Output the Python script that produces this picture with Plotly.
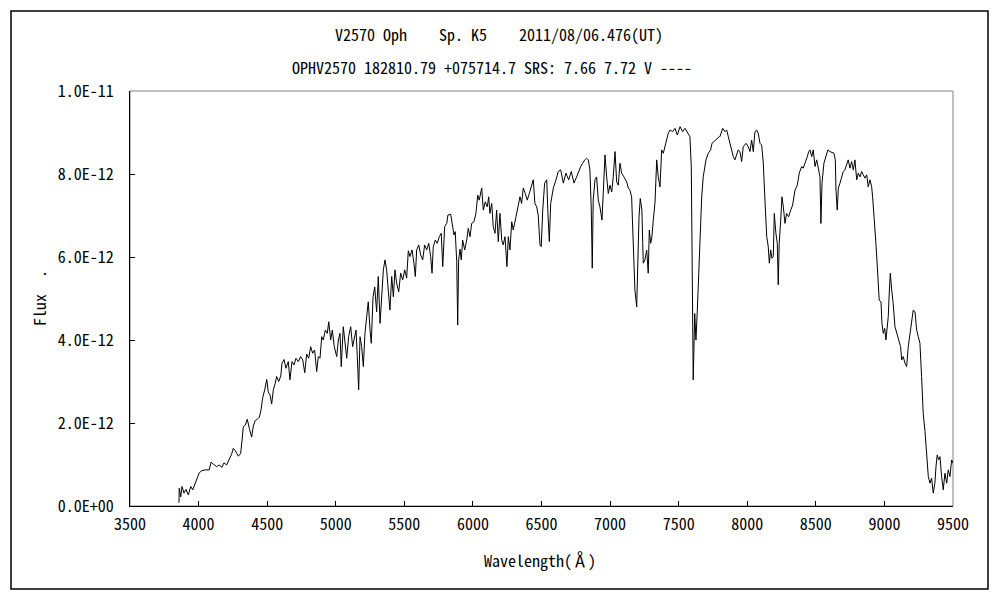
import plotly.graph_objects as go

# Wavelength (Angstrom) and flux (units of 1e-12)
wavelength = [
    3857, 3859, 3870, 3879, 3894, 3908, 3925, 3943, 3957, 3974, 3991, 4005, 4023, 4047, 4078, 4091,
    4107, 4132, 4151, 4169, 4185, 4205, 4224, 4241, 4253, 4268, 4290, 4307, 4317, 4326, 4341, 4355,
    4370, 4387, 4399, 4413, 4428, 4443, 4455, 4467, 4482, 4497, 4508, 4521, 4533, 4545, 4559, 4569,
    4584, 4599, 4608, 4623, 4637, 4654, 4666, 4681, 4696, 4710, 4727, 4744, 4759, 4774, 4788, 4803,
    4817, 4832, 4846, 4861, 4873,
    4885, 4898, 4909, 4924, 4938, 4949, 4963, 4975, 4989, 5007, 5019, 5031, 5040, 5055, 5067, 5080,
    5094, 5109, 5123, 5135, 5148, 5157, 5167, 5177, 5189, 5201, 5213, 5226, 5237, 5250, 5259, 5272,
    5284, 5298, 5310, 5323, 5335, 5347, 5359, 5371, 5383, 5395, 5408, 5420, 5432, 5444, 5459, 5473,
    5488, 5503, 5517, 5529, 5541, 5556, 5570, 5580, 5590, 5605, 5619, 5634, 5648, 5663, 5678, 5692,
    5702, 5711, 5726, 5740, 5755, 5769, 5780, 5789,
    5794, 5809, 5818, 5838, 5852, 5862, 5871, 5882, 5889, 5896, 5906, 5915, 5925, 5940, 5955, 5966,
    5979, 5991, 6008, 6022, 6035, 6046, 6064, 6076, 6090, 6105, 6115, 6124, 6137, 6148, 6161, 6173,
    6185, 6197, 6210, 6221, 6234, 6248, 6258, 6270, 6283, 6294, 6314, 6329, 6343, 6355, 6367, 6382,
    6396, 6411, 6425, 6440, 6452, 6465, 6476, 6489, 6498, 6509, 6523, 6538, 6547, 6557, 6567, 6586,
    6606, 6622, 6640, 6659, 6678, 6698, 6717, 6737, 6756, 6775,
    6786, 6800, 6815, 6829, 6841, 6853, 6863, 6870, 6877, 6890, 6902, 6914, 6926, 6941, 6950, 6963,
    6975, 6987, 6999, 7012, 7023, 7036, 7048, 7060, 7072, 7084, 7101, 7121, 7133, 7145, 7157, 7165,
    7172, 7181, 7194, 7203, 7211, 7220, 7232, 7238, 7242, 7254, 7267, 7278, 7286, 7296, 7305, 7315,
    7327, 7340, 7351, 7364, 7376, 7388, 7400, 7413, 7424, 7437, 7456, 7473, 7490, 7510, 7529, 7546,
    7563, 7582, 7592, 7599, 7606, 7617, 7626, 7636, 7646, 7655, 7668, 7679, 7699, 7716, 7733, 7743,
    7757, 7777, 7796,
    7801, 7821, 7838, 7850, 7862, 7874, 7886, 7898, 7910, 7923, 7934, 7947, 7959, 7971, 7991, 8007,
    8020, 8032, 8044, 8056, 8069, 8080, 8093, 8105, 8117, 8129, 8142, 8153, 8161, 8171, 8180, 8190,
    8197, 8209, 8219, 8226, 8233, 8244, 8253, 8263, 8275, 8287, 8302, 8317, 8331, 8348, 8365, 8379,
    8397, 8408, 8423, 8438, 8448, 8457, 8470, 8481, 8494, 8506, 8518, 8530, 8537, 8545, 8559, 8574,
    8588, 8603, 8618, 8632, 8642,
    8647, 8656, 8664, 8676, 8688, 8700, 8712, 8725, 8736, 8749, 8761, 8773, 8785, 8798, 8809, 8822,
    8834, 8846, 8858, 8871, 8882, 8895, 8907, 8914, 8926, 8938, 8951, 8962, 8975, 8982, 8992, 9002,
    9011, 9021, 9028, 9035, 9043, 9053, 9064, 9077, 9089, 9099, 9108, 9118, 9126, 9137, 9150, 9162,
    9174, 9186, 9199, 9210, 9223, 9235, 9247, 9259, 9271, 9283, 9296, 9308, 9320, 9332, 9344, 9356,
    9368, 9376, 9385, 9395, 9405, 9417, 9429, 9441, 9454, 9465, 9478, 9490, 9500,
]

flux_e12 = [
    0.08, 0.43, 0.22, 0.47, 0.31, 0.40, 0.27, 0.47, 0.39, 0.55, 0.67, 0.80, 0.85, 0.87, 0.87, 1.06,
    1.01, 0.95, 0.99, 0.93, 1.04, 0.99, 1.13, 1.25, 1.39, 1.33, 1.20, 1.27, 1.59, 1.91, 1.95, 2.09,
    1.87, 1.66, 1.93, 2.06, 2.09, 2.14, 2.31, 2.60, 2.80, 3.05, 2.75, 2.67, 2.46, 2.80, 2.96, 3.12,
    3.00, 3.13, 3.44, 3.53, 3.32, 3.48, 3.04, 3.48, 3.40, 3.56, 3.48, 3.60, 3.52, 3.21, 3.66, 3.56,
    3.84, 3.68, 3.76, 3.24, 3.60,
    3.56, 4.08, 4.00, 4.24, 4.16, 4.44, 4.00, 4.24, 3.84, 3.60, 4.00, 4.16, 3.36, 4.32, 3.92, 3.56,
    4.08, 4.32, 3.84, 4.00, 4.24, 3.60, 2.80, 4.08, 3.84, 3.36, 4.16, 4.58, 4.92, 4.24, 3.92, 5.04,
    5.28, 4.68, 5.53, 4.40, 5.20, 5.69, 5.93, 5.69, 5.20, 4.72, 5.53, 5.04, 5.69, 5.37, 5.16, 5.61,
    5.45, 5.69, 5.49, 6.15, 6.01, 6.17, 5.85, 5.53, 6.17, 6.29, 6.05, 5.93, 6.29, 6.17, 6.33, 6.01,
    5.61, 6.25, 6.41, 6.33, 6.49, 6.57, 5.77, 6.65,
    6.73, 6.81, 7.01, 7.03, 6.77, 6.53, 6.61, 5.89, 4.36, 5.93, 6.19, 5.93, 6.41, 6.17, 6.41, 6.69,
    6.49, 6.81, 6.85, 7.05, 7.49, 7.37, 7.66, 7.13, 7.33, 7.21, 7.45, 7.05, 7.29, 6.73, 6.57, 7.13,
    6.37, 7.05, 6.41, 6.29, 6.49, 5.77, 6.49, 6.17, 6.85, 6.65, 6.97, 7.21, 7.45, 7.29, 7.66, 7.53,
    7.37, 7.53, 7.69, 7.86, 7.29, 7.21, 7.01, 6.29, 6.25, 7.13, 7.78, 7.86, 7.05, 6.37, 7.29, 7.66,
    7.86, 8.06, 8.10, 7.78, 8.02, 7.86, 8.06, 7.78, 7.93, 8.10,
    8.18, 8.26, 8.34, 8.38, 8.34, 8.10, 7.13, 5.73, 7.37, 7.86, 7.93, 7.37, 7.21, 6.89, 7.61, 8.46,
    7.93, 7.53, 7.73, 7.57, 7.93, 8.54, 7.81, 7.73, 8.26, 8.02, 7.93, 7.81, 7.66, 7.61, 7.45, 6.81,
    5.85, 5.20, 4.80, 6.33, 6.97, 7.41, 7.13, 6.33, 5.85, 5.93, 6.17, 5.61, 6.65, 6.33, 6.49, 6.89,
    7.29, 8.34, 7.93, 7.69, 8.58, 8.50, 8.66, 8.78, 8.98, 9.06, 9.02, 9.10, 8.94, 9.14, 9.02, 9.10,
    9.00, 8.90, 8.18, 4.88, 3.04, 4.64, 4.00, 4.72, 5.53, 6.57, 7.45, 7.93, 8.34, 8.50, 8.58, 8.74,
    8.78, 8.86, 8.90,
    8.90, 9.10, 9.02, 9.06, 8.90, 8.74, 8.62, 8.42, 8.34, 8.50, 8.58, 8.54, 8.30, 8.66, 8.74, 8.66,
    8.54, 8.82, 8.54, 9.02, 9.06, 8.98, 8.74, 8.70, 8.26, 7.37, 6.49, 6.25, 5.85, 6.17, 5.97, 6.01,
    7.05, 6.57, 6.33, 5.33, 6.33, 6.89, 7.45, 7.21, 6.81, 7.05, 6.97, 7.13, 7.25, 7.61, 7.73, 8.02,
    8.18, 8.14, 8.26, 8.42, 8.54, 8.58, 8.42, 8.58, 8.18, 8.34, 8.14, 7.93, 6.81, 7.78, 8.26, 8.42,
    8.58, 8.54, 8.51, 8.50, 8.34,
    7.61, 7.13, 7.66, 7.78, 7.90, 8.06, 8.10, 8.26, 8.34, 8.14, 8.30, 8.10, 8.34, 7.86, 8.02, 7.93,
    8.06, 7.98, 7.90, 7.98, 7.69, 7.86, 7.69, 7.45, 6.97, 6.33, 5.61, 4.96, 4.92, 4.40, 4.16, 4.28,
    4.00, 4.40, 4.56, 5.13, 5.61, 5.20, 4.88, 4.32, 4.16, 4.08, 3.92, 3.84, 3.52, 3.60, 3.44, 3.36,
    3.84, 4.16, 4.48, 4.72, 4.68, 4.24, 4.08, 3.92, 3.12, 2.23, 1.79, 1.11, 0.71, 0.55, 0.67, 0.31,
    0.55, 0.95, 1.23, 1.11, 1.19, 0.71, 0.39, 0.79, 0.55, 0.87, 0.71, 1.11, 1.03,
]

x_ticks = [3500, 4000, 4500, 5000, 5500, 6000, 6500, 7000, 7500, 8000, 8500, 9000, 9500]
y_tick_vals = [0, 2e-12, 4e-12, 6e-12, 8e-12, 1e-11]
y_tick_text = ["0.0E+00", "2.0E-12", "4.0E-12", "6.0E-12", "8.0E-12", "1.0E-11"]

title_line1 = "V2570 Oph\u00a0\u00a0\u00a0\u00a0Sp. K5\u00a0\u00a0\u00a0\u00a02011/08/06.476(UT)"
title_line2 = "OPHV2570 182810.79 +075714.7 SRS: 7.66 7.72 V ----"

flux = [v * 1e-12 for v in flux_e12]

FONT = "Noto Sans Mono CJK JP, Noto Sans CJK JP, DejaVu Sans Mono, monospace"
FS = 16

# pixel layout helpers (plot area: x 130..953, y 91..506)
L, R, T, B = 130, 953, 91, 506
W, H = R - L, B - T


def px(xp):
    return (xp - L) / W


def py(yp):
    return (B - yp) / H


fig = go.Figure()
fig.add_trace(go.Scatter(
    x=wavelength, y=flux, mode="lines",
    line=dict(color="black", width=1),
    hoverinfo="skip", showlegend=False,
))

fig.update_layout(
    width=1000, height=600,
    margin=dict(l=L, r=1000 - R, t=T, b=600 - B),
    paper_bgcolor="white", plot_bgcolor="white",
    font=dict(family=FONT, size=FS, color="black"),
    showlegend=False,
    xaxis=dict(
        range=[3500, 9500], tickvals=x_ticks, ticks="inside", ticklen=5,
        tickcolor="black", showline=True, linecolor="black", linewidth=1,
        showgrid=False, zeroline=False, ticklabelstandoff=4,
        tickfont=dict(family=FONT, size=FS),
    ),
    yaxis=dict(
        range=[0, 1e-11], tickvals=y_tick_vals, ticktext=y_tick_text,
        ticks="inside", ticklen=5, tickcolor="black", showline=True,
        linecolor="black", linewidth=1, showgrid=False, zeroline=False,
        ticklabelstandoff=12, tickfont=dict(family=FONT, size=FS),
    ),
    shapes=[
        dict(type="rect", xref="paper", yref="paper", x0=0, x1=1, y0=0, y1=1,
             line=dict(color="#808080", width=1), layer="below"),
        dict(type="rect", xref="paper", yref="paper",
             x0=px(11), x1=px(988), y0=py(589), y1=py(11),
             line=dict(color="black", width=1.5)),
    ],
    annotations=[
        dict(text=title_line1, xref="paper", yref="paper", x=px(499), y=py(34),
             showarrow=False, xanchor="center", yanchor="middle",
             font=dict(family=FONT, size=FS)),
        dict(text=title_line2, xref="paper", yref="paper", x=px(492), y=py(67),
             showarrow=False, xanchor="center", yanchor="middle",
             font=dict(family=FONT, size=FS)),
        dict(text="Wavelength(\u212b)", xref="paper", yref="paper", x=px(540), y=py(560),
             showarrow=False, xanchor="center", yanchor="middle",
             font=dict(family=FONT, size=FS)),
        dict(text="Flux\u00a0\u00a0.", xref="paper", yref="paper", x=px(39), y=py(298),
             showarrow=False, xanchor="center", yanchor="middle", textangle=-90,
             font=dict(family=FONT, size=FS)),
    ],
)

fig.write_html(
    "out.html",
    config={"displayModeBar": False, "staticPlot": True},
    post_script="document.body.style.margin='0px';",
)
